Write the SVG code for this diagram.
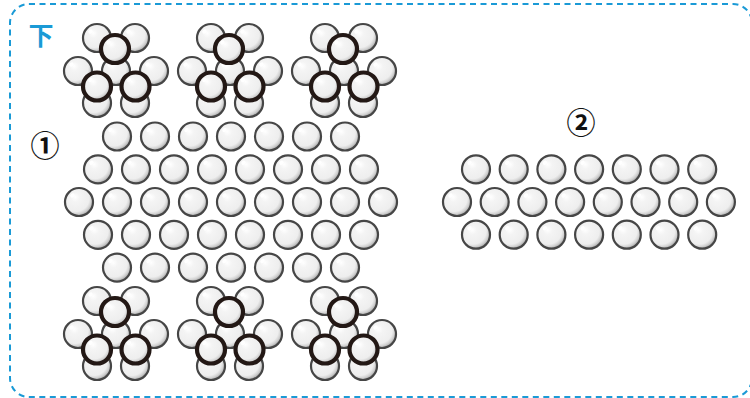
<svg xmlns="http://www.w3.org/2000/svg" xmlns:xlink="http://www.w3.org/1999/xlink" width="750" height="398" viewBox="0 0 750 398">
<style>
.frame{fill:none;stroke:#1a9ad6;stroke-width:2;stroke-dasharray:6 4.5}
.num{font-family:"Noto Sans CJK JP","DejaVu Sans",sans-serif;font-size:29px;font-weight:700;fill:#111;text-anchor:middle}
.dir{font-family:"Noto Sans CJK JP",sans-serif;font-size:25px;font-weight:700;fill:#1a9ad6;text-anchor:middle}
</style>
<defs>
<radialGradient id="g" cx="0.4" cy="0.38" r="0.66" fx="0.36" fy="0.32">
<stop offset="0" stop-color="#ffffff"/>
<stop offset="0.25" stop-color="#f4f4f4"/>
<stop offset="0.72" stop-color="#eeeeee"/>
<stop offset="0.84" stop-color="#d4d4d4"/>
<stop offset="1" stop-color="#9a9a9a"/>
</radialGradient>
<g id="b"><circle r="14" fill="url(#g)" stroke="#464646" stroke-width="2.2"/><ellipse cx="-6.5" cy="-6.5" rx="2.4" ry="1.9" fill="#fff" transform="rotate(-40 -6.5 -6.5)"/></g>
<g id="d"><circle r="14" fill="url(#g)" stroke="#231815" stroke-width="4.2"/><ellipse cx="-6.5" cy="-6.5" rx="2.4" ry="1.9" fill="#fff" transform="rotate(-40 -6.5 -6.5)"/></g>
<g id="cl">
<use href="#b" x="0" y="0"/>
<use href="#b" x="-19" y="-33"/><use href="#b" x="19" y="-33"/>
<use href="#b" x="-38" y="0"/><use href="#b" x="38" y="0"/>
<use href="#b" x="-19" y="32"/><use href="#b" x="19" y="32"/>
<use href="#d" x="-1" y="-22"/><use href="#d" x="-19" y="15.5"/><use href="#d" x="19.5" y="15.5"/>
</g>
<g id="r7"><use href="#b" x="0"/><use href="#b" x="38"/><use href="#b" x="76"/><use href="#b" x="114"/><use href="#b" x="152"/><use href="#b" x="190"/><use href="#b" x="228"/></g>
<g id="r8"><use href="#r7"/><use href="#b" x="266"/></g>
<g id="s7"><use href="#b" x="0"/><use href="#b" x="37.7"/><use href="#b" x="75.4"/><use href="#b" x="113.1"/><use href="#b" x="150.8"/><use href="#b" x="188.5"/><use href="#b" x="226.2"/></g>
<g id="s8"><use href="#s7"/><use href="#b" x="263.9"/></g>
</defs>
<rect class="frame" x="10" y="4" width="742" height="393" rx="19"/>
<text class="dir" x="41" y="45">下</text>
<text class="num" x="45" y="157">①</text>
<text class="num" x="581" y="134">②</text>
<g id="group1">
<g id="cluster-top-1" transform="translate(116 71)"><use href="#cl"/></g>
<g id="cluster-top-2" transform="translate(230 71)"><use href="#cl"/></g>
<g id="cluster-top-3" transform="translate(344 71)"><use href="#cl"/></g>
<g id="block">
<use href="#r7" x="117" y="136.5"/>
<use href="#r8" x="98" y="169.3"/>
<use href="#r8" x="79" y="202"/><use href="#b" x="383" y="202"/>
<use href="#r8" x="98" y="234.8"/>
<use href="#r7" x="117" y="267.6"/>
</g>
<g id="cluster-bottom-1" transform="translate(116 334)"><use href="#cl"/></g>
<g id="cluster-bottom-2" transform="translate(230 334)"><use href="#cl"/></g>
<g id="cluster-bottom-3" transform="translate(344 334)"><use href="#cl"/></g>
</g>
<g id="group2">
<use href="#s7" x="476" y="169.3"/>
<use href="#s8" x="457" y="202"/>
<use href="#s7" x="476" y="234.7"/>
</g>
<g id="connectors"/>
</svg>
